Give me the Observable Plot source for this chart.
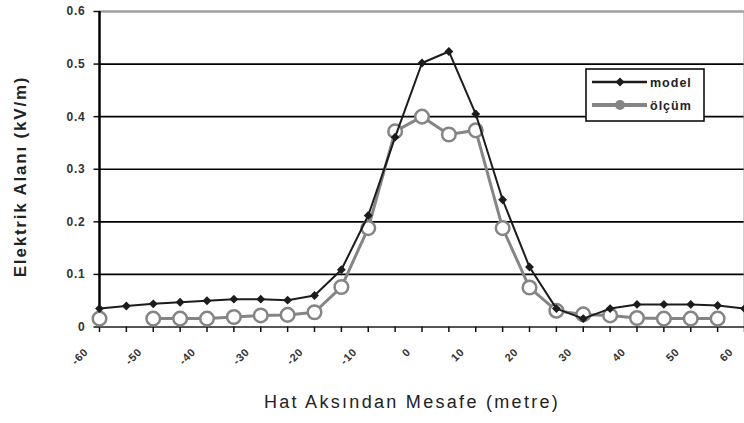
<!DOCTYPE html>
<html><head><meta charset="utf-8">
<script src="https://cdn.jsdelivr.net/npm/d3@7"></script>
<script src="https://cdn.jsdelivr.net/npm/@observablehq/plot@0.6"></script>
<style>body{margin:0;background:#fff} svg{display:block} svg text{letter-spacing:0.8px}</style>
</head><body><div id="chart"></div>
<script>
const distances = [-60,-55,-50,-45,-40,-35,-30,-25,-20,-15,-10,-5,0,5,10,15,20,25,30,35,40,45,50,55,60];
const modelValues = [0.035,0.040,0.044,0.047,0.050,0.053,0.053,0.051,0.060,0.109,0.212,0.361,0.502,0.524,0.405,0.242,0.114,0.035,0.016,0.035,0.043,0.043,0.043,0.041,0.035];
const olcumValues = [0.016,null,0.016,0.016,0.016,0.019,0.022,0.023,0.028,0.076,0.188,0.372,0.400,0.366,0.374,0.188,0.075,0.031,0.024,0.022,0.017,0.016,0.016,0.016,null];
const xTickLabels = [-60,-50,-40,-30,-20,-10,0,10,20,30,40,50,60];
const yTickLabels = [0,0.1,0.2,0.3,0.4,0.5,0.6];
const seriesNames = ["model","ölçüm"];
const xTitle = "Hat Aksından Mesafe (metre)";
const yTitle = "Elektrik Alanı (kV/m)";

const model = distances.map((d,i)=>({x:d,y:modelValues[i]}));
const olcum = distances.map((d,i)=>({x:d,y:olcumValues[i]}));

const dark = "#1c1c1c", gray = "#858585";

const plot = Plot.plot({
  width: 744, height: 423,
  marginLeft: 99, marginRight: 0, marginTop: 11, marginBottom: 96.5,
  style: {fontFamily: "Liberation Sans, Arial, sans-serif", background: "#fff", overflow: "hidden"},
  x: {type: "linear", domain: [-60, 60]},
  y: {domain: [0, 0.6]},
  marks: [
    Plot.ruleY(yTickLabels.filter(v => v > 0 && v < 0.6), {stroke: "#000", strokeWidth: 1.6}),
    Plot.ruleY([0.6], {stroke: "#a0a0a0", strokeWidth: 2.5}),
    Plot.ruleX([60], {stroke: "#a0a0a0", strokeWidth: 2}),
    Plot.ruleY([0], {stroke: "#555", strokeWidth: 2}),
    // x tick marks (every category)
    Plot.axisX({ticks: distances, tickSize: 5.5, tickFormat: () => "", stroke: "#111", strokeWidth: 1.5, label: null}),
    // x tick labels (every second category)
    Plot.text(xTickLabels, {x: d => d, y: 0, text: d => String(d), rotate: -45, textAnchor: "end",
      dx: -13, dy: 23, fontSize: 11, fontWeight: "bold", fill: "#333"}),
    Plot.axisY({ticks: yTickLabels, tickSize: 5.5, tickPadding: 8.5, stroke: "#111", strokeWidth: 1.5,
      tickFormat: d => d === 0 ? "0" : d.toFixed(1), fontSize: 12, fontWeight: "bold", fill: "#333", label: null}),
    Plot.ruleX([-60], {stroke: "#000", strokeWidth: 2.5}),
    Plot.line(olcum, {x: "x", y: "y", stroke: gray, strokeWidth: 3}),
    Plot.dot(olcum, {x: "x", y: "y", r: 6.8, stroke: gray, strokeWidth: 2.5, fill: "#fff"}),
    Plot.line(model, {x: "x", y: "y", stroke: dark, strokeWidth: 2}),
    Plot.dot(model, {x: "x", y: "y", symbol: "diamond2", r: 4, fill: dark, stroke: "none"})
  ]
});
document.getElementById("chart").appendChild(plot);

const svg = d3.select(plot);
// axis titles
svg.append("text").attr("transform", "translate(26,176.5) rotate(-90)")
  .attr("text-anchor", "middle").attr("font-size", 17).attr("font-weight", "bold")
  .style("letter-spacing", "1.8px").attr("fill", "#222").text(yTitle);
svg.append("text").attr("x", 412).attr("y", 408)
  .attr("text-anchor", "middle").attr("font-size", 18)
  .style("letter-spacing", "2.3px").attr("fill", "#222").text(xTitle);
// legend
const lg = svg.append("g");
lg.append("rect").attr("x", 586).attr("y", 69).attr("width", 118).attr("height", 52)
  .attr("fill", "#fff").attr("stroke", "#000").attr("stroke-width", 1.5);
const rows = [{name: seriesNames[0], color: dark, w: 2.5, y: 82}, {name: seriesNames[1], color: gray, w: 4, y: 105}];
rows.forEach(r => {
  lg.append("line").attr("x1", 592).attr("x2", 647).attr("y1", r.y).attr("y2", r.y)
    .attr("stroke", r.color).attr("stroke-width", r.w);
  if (r.name === seriesNames[0]) {
    lg.append("path").attr("d", d3.symbol(d3.symbolSquare, 40)()).attr("transform", `translate(620,${r.y}) rotate(45)`).attr("fill", dark);
  } else {
    lg.append("circle").attr("cx", 620).attr("cy", r.y).attr("r", 5).attr("fill", gray);
  }
  lg.append("text").attr("x", 650).attr("y", r.y + 4.5).attr("text-anchor", "start")
    .attr("font-size", 12.5).attr("font-weight", "bold")
    .style("letter-spacing", "1px").attr("fill", "#222").text(r.name);
});
</script></body></html>
